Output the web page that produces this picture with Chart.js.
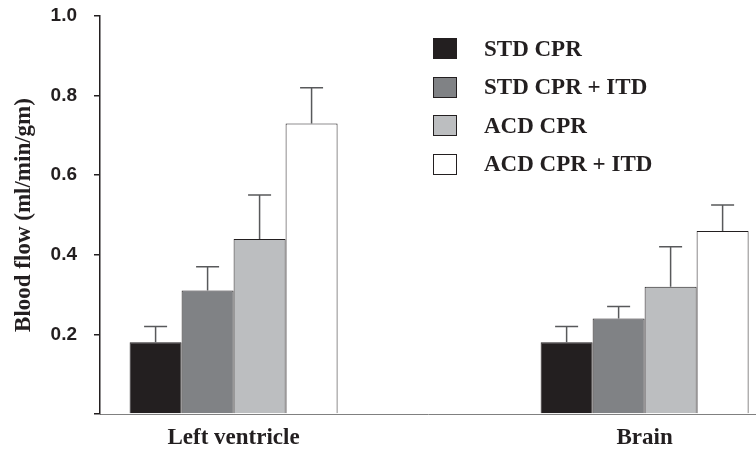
<!DOCTYPE html>
<html lang="en">
<head>
  <title>Blood flow</title>
  <script src="https://cdn.jsdelivr.net/npm/chart.js"></script>
</head>

<style>
  body { margin: 0; background: #fff; }
  #wrap { position: relative; width: 756px; height: 450px; }
  .leg-row {
    position: absolute;
    left: 433px;
    height: 21px;
    display: flex;
    align-items: center;
    font: bold 23px "Liberation Serif", "Times New Roman", serif;
    color: #231f20;
    white-space: nowrap;
  }
  .leg-box {
    width: 22px;
    height: 19px;
    border: 1px solid #231f20;
    margin-right: 27px;
  }
</style>

<body>
  <div id="wrap">
    <canvas id="bar-chart" width="756" height="450"></canvas>
    <div id="legend"></div>
  </div>

  <script>
    // categories on the x axis
    const categories = ['Left ventricle', 'Brain'];
    // the four groups
    const seriesNames = ['STD CPR', 'STD CPR + ITD', 'ACD CPR', 'ACD CPR + ITD'];
    const seriesColors = ['#231f20', '#808285', '#bcbec0', '#ffffff'];
    // mean values, one entry per category
    const stdCpr = [0.18, 0.18];
    const stdCprItd = [0.31, 0.24];
    const acdCpr = [0.44, 0.32];
    const acdCprItd = [0.73, 0.46];
    // standard deviations (upper error bar only)
    const stdCprSd = [0.04, 0.04];
    const stdCprItdSd = [0.06, 0.03];
    const acdCprSd = [0.11, 0.10];
    const acdCprItdSd = [0.09, 0.065];
    // y tick labels
    const yTicks = [0, 0.2, 0.4, 0.6, 0.8, 1.0];

    const seriesValues = [stdCpr, stdCprItd, acdCpr, acdCprItd];
    const seriesSd = [stdCprSd, stdCprItdSd, acdCprSd, acdCprItdSd];

    const textColor = '#231f20';
    const serif = '"Liberation Serif", "Times New Roman", serif';

    // draws the upper error bars on top of the bars
    const errorBars = {
      id: 'errorBars',
      afterDatasetsDraw(chart) {
        const ctx = chart.ctx;
        const yScale = chart.scales.y;
        ctx.save();
        ctx.strokeStyle = '#58595b';
        ctx.lineWidth = 1.5;
        chart.data.datasets.forEach((ds, i) => {
          const meta = chart.getDatasetMeta(i);
          meta.data.forEach((bar, j) => {
            const top = yScale.getPixelForValue(ds.data[j].y + ds.errors[j]);
            ctx.beginPath();
            ctx.moveTo(bar.x, bar.y);
            ctx.lineTo(bar.x, top);
            ctx.moveTo(bar.x - 11.5, top);
            ctx.lineTo(bar.x + 11.5, top);
            ctx.stroke();
          });
        });
        ctx.restore();
      }
    };

    var datasets = seriesNames.map((name, i) => ({
      label: name,
      data: seriesValues[i].map((v, j) => ({x: j, y: v})),
      errors: seriesSd[i],
      backgroundColor: seriesColors[i],
      borderColor: textColor,
      borderWidth: 1,
      categoryPercentage: 0.506,
      barPercentage: 1
    }));

    var ctx1 = document.getElementById('bar-chart').getContext('2d');
    var chart1 = new Chart(ctx1, {
      type: 'bar',
      data: { datasets: datasets },
      options: {
        responsive: false,
        animation: false,
        layout: { padding: { top: 16, right: 0, left: 0, bottom: 0 } },
        plugins: {
          legend: { display: false },
          tooltip: { enabled: false }
        },
        scales: {
          x: {
            type: 'linear',
            offset: false,
            min: -0.325,
            max: 1.271,
            afterBuildTicks: (axis) => { axis.ticks = categories.map((c, i) => ({value: i})); },
            afterFit: (axis) => { axis.height = 36; },
            grid: { display: false, drawTicks: false, offset: false },
            border: { color: '#808080', width: 1 },
            ticks: {
              padding: 10,
              color: textColor,
              font: { family: serif, size: 23, weight: 'bold' },
              callback: (v) => categories[v] ?? ''
            }
          },
          y: {
            min: 0,
            max: 1.0,
            afterBuildTicks: (axis) => { axis.ticks = yTicks.map(v => ({value: v})); },
            afterFit: (axis) => {
              axis.width = 100;
              axis.paddingTop = 0;
              axis.paddingBottom = 0;
            },
            grid: { drawOnChartArea: false, drawTicks: true, tickLength: 6, color: textColor, lineWidth: 1.5 },
            border: { color: textColor, width: 1.5 },
            ticks: {
              padding: 17,
              color: textColor,
              font: { family: '"Liberation Sans", Arial, sans-serif', size: 19, weight: 'bold' },
              callback: (v) => v === 0 ? '' : v.toFixed(1)
            },
            title: {
              display: true,
              text: 'Blood flow (ml/min/gm)',
              color: textColor,
              padding: { top: 10, bottom: 0 },
              font: { family: serif, size: 23, weight: 'bold' }
            }
          }
        }
      },
      plugins: [errorBars]
    });

    // legend in the upper right, built from the same series
    var legend = document.getElementById('legend');
    seriesNames.forEach((name, i) => {
      var row = document.createElement('div');
      row.className = 'leg-row';
      row.style.top = (38 + i * 38.5) + 'px';
      var box = document.createElement('span');
      box.className = 'leg-box';
      box.style.backgroundColor = seriesColors[i];
      row.appendChild(box);
      row.appendChild(document.createTextNode(name));
      legend.appendChild(row);
    });
  </script>
</body>

</html>
